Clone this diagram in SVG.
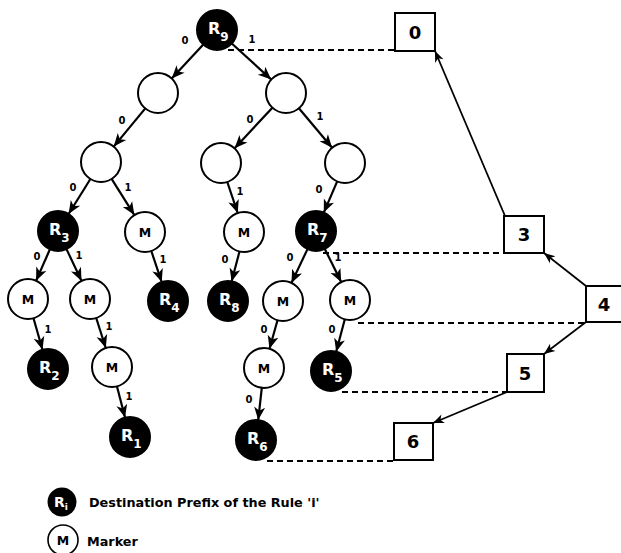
<svg xmlns="http://www.w3.org/2000/svg" width="621" height="553" viewBox="0 0 621 553">
  <style>
    text { font-family: "DejaVu Sans", "Liberation Sans", sans-serif; font-weight: bold; }
    .rule circle { fill: #000; stroke: #000; stroke-width: 2; }
    .rule text { fill: #fff; font-size: 16px; }
    .rule tspan { font-size: 12px; }
    .plain circle, .marker circle { fill: #fff; stroke: #000; stroke-width: 2; }
    .marker text { fill: #000; font-size: 12.5px; text-anchor: middle; }
    .box rect { fill: #fff; stroke: #000; stroke-width: 2; }
    .box text { fill: #000; font-size: 18px; text-anchor: middle; }
    .edge { stroke: #000; stroke-width: 2.2; fill: none; marker-end: url(#head); }
    .link { stroke: #000; stroke-width: 1.8; fill: none; marker-end: url(#headSmall); }
    .dash { stroke: #000; stroke-width: 2; stroke-dasharray: 6 4; fill: none; }
    .bit { font-size: 10px; text-anchor: middle; fill: #000; }
    .legend { font-size: 12.8px; fill: #000; }
  </style>
  <defs>
    <marker id="head" markerUnits="userSpaceOnUse" markerWidth="16" markerHeight="14" viewBox="-13 -7 14 14" refX="0" refY="0" orient="auto">
      <path d="M0,0 L-13,-5.5 L-9.5,0 L-13,5.5 Z" fill="#000"/>
    </marker>
    <marker id="headSmall" markerUnits="userSpaceOnUse" markerWidth="14" markerHeight="12" viewBox="-11 -6 12 12" refX="0" refY="0" orient="auto">
      <path d="M0,0 L-11,-4.5 L-8,0 L-11,4.5 Z" fill="#000"/>
    </marker>
  </defs>

  <!-- dashed level guides -->
  <g id="guides">
    <line class="dash" x1="228" y1="50" x2="395" y2="50"/>
    <line class="dash" x1="323" y1="253" x2="504" y2="253"/>
    <line class="dash" x1="358" y1="323" x2="586" y2="323"/>
    <line class="dash" x1="342" y1="392" x2="507" y2="392"/>
    <line class="dash" x1="267" y1="461" x2="394" y2="461"/>
  </g>

  <!-- trie edges -->
  <g id="connectors">
    <line class="edge" x1="203.3" y1="44.6" x2="171.7" y2="78.4"/>
    <line class="edge" x1="231.8" y1="43.5" x2="271.2" y2="79.5"/>
    <line class="edge" x1="145.3" y1="108.4" x2="113.7" y2="146.6"/>
    <line class="edge" x1="272.4" y1="107.7" x2="234.6" y2="148.3"/>
    <line class="edge" x1="298.9" y1="108.3" x2="332.1" y2="147.7"/>
    <line class="edge" x1="90.4" y1="179.0" x2="68.6" y2="214.0"/>
    <line class="edge" x1="111.6" y1="178.9" x2="134.4" y2="215.1"/>
    <line class="edge" x1="227.3" y1="182.0" x2="237.7" y2="213.0"/>
    <line class="edge" x1="337.2" y1="181.4" x2="323.8" y2="212.6"/>
    <line class="edge" x1="49.9" y1="249.3" x2="36.1" y2="280.7"/>
    <line class="edge" x1="66.5" y1="249.1" x2="81.5" y2="280.9"/>
    <line class="edge" x1="151.3" y1="251.0" x2="161.7" y2="282.0"/>
    <line class="edge" x1="239.5" y1="251.5" x2="231.6" y2="281.5"/>
    <line class="edge" x1="307.5" y1="249.1" x2="291.5" y2="282.9"/>
    <line class="edge" x1="324.8" y1="248.9" x2="341.2" y2="282.1"/>
    <line class="edge" x1="33.5" y1="318.2" x2="42.5" y2="349.8"/>
    <line class="edge" x1="96.2" y1="318.0" x2="105.8" y2="348.0"/>
    <line class="edge" x1="117.0" y1="386.4" x2="125.0" y2="417.6"/>
    <line class="edge" x1="277.5" y1="320.3" x2="269.5" y2="348.7"/>
    <line class="edge" x1="344.8" y1="319.3" x2="336.2" y2="351.7"/>
    <line class="edge" x1="261.8" y1="387.9" x2="258.2" y2="420.1"/>
    <!-- links between level boxes -->
    <line class="link" x1="505" y1="216" x2="435" y2="51"/>
    <line class="link" x1="586" y1="286" x2="544" y2="253"/>
    <line class="link" x1="586" y1="322" x2="544" y2="354"/>
    <line class="link" x1="507" y1="392" x2="433" y2="423"/>
  </g>

  <!-- edge bits -->
  <g id="bits">
    <text class="bit" x="185" y="44">0</text>
    <text class="bit" x="252" y="43">1</text>
    <text class="bit" x="122" y="124">0</text>
    <text class="bit" x="250" y="123">0</text>
    <text class="bit" x="320" y="120">1</text>
    <text class="bit" x="73" y="191">0</text>
    <text class="bit" x="128" y="191">1</text>
    <text class="bit" x="240" y="195">1</text>
    <text class="bit" x="319" y="193">0</text>
    <text class="bit" x="37" y="260">0</text>
    <text class="bit" x="79" y="259">1</text>
    <text class="bit" x="163" y="263">1</text>
    <text class="bit" x="225" y="263">0</text>
    <text class="bit" x="290" y="261">0</text>
    <text class="bit" x="338" y="261">1</text>
    <text class="bit" x="48" y="333">1</text>
    <text class="bit" x="109" y="330">1</text>
    <text class="bit" x="264" y="333">0</text>
    <text class="bit" x="332" y="333">0</text>
    <text class="bit" x="129" y="400">1</text>
    <text class="bit" x="249" y="403">0</text>
  </g>

  <!-- trie nodes -->
  <g id="R9" class="rule"><circle cx="217" cy="30" r="20"/><text x="208" y="34">R<tspan dy="7">9</tspan></text></g>
  <g id="n0" class="plain"><circle cx="158" cy="93" r="20"/></g>
  <g id="n1" class="plain"><circle cx="286" cy="93" r="20"/></g>
  <g id="n00" class="plain"><circle cx="101" cy="162" r="20"/></g>
  <g id="n10" class="plain"><circle cx="221" cy="163" r="20"/></g>
  <g id="n11" class="plain"><circle cx="345" cy="163" r="20"/></g>
  <g id="R3" class="rule"><circle cx="58" cy="231" r="20"/><text x="49" y="235">R<tspan dy="7">3</tspan></text></g>
  <g id="M001" class="marker"><circle cx="145" cy="232" r="20"/><text x="145" y="236.5">M</text></g>
  <g id="M101" class="marker"><circle cx="244" cy="232" r="20"/><text x="244" y="236.5">M</text></g>
  <g id="R7" class="rule"><circle cx="316" cy="231" r="20"/><text x="307" y="235">R<tspan dy="7">7</tspan></text></g>
  <g id="M0000" class="marker"><circle cx="28" cy="299" r="20"/><text x="28" y="303.5">M</text></g>
  <g id="M0001" class="marker"><circle cx="90" cy="299" r="20"/><text x="90" y="303.5">M</text></g>
  <g id="R4" class="rule"><circle cx="168" cy="301" r="20"/><text x="159" y="305">R<tspan dy="7">4</tspan></text></g>
  <g id="R8" class="rule"><circle cx="228" cy="301" r="20"/><text x="219" y="305">R<tspan dy="7">8</tspan></text></g>
  <g id="M1100" class="marker"><circle cx="283" cy="301" r="20"/><text x="283" y="305.5">M</text></g>
  <g id="M1101" class="marker"><circle cx="350" cy="300" r="20"/><text x="350" y="304.5">M</text></g>
  <g id="R2" class="rule"><circle cx="48" cy="369" r="20"/><text x="39" y="373">R<tspan dy="7">2</tspan></text></g>
  <g id="M00011" class="marker"><circle cx="112" cy="367" r="20"/><text x="112" y="371.5">M</text></g>
  <g id="M11000" class="marker"><circle cx="264" cy="368" r="20"/><text x="264" y="372.5">M</text></g>
  <g id="R5" class="rule"><circle cx="331" cy="371" r="20"/><text x="322" y="375">R<tspan dy="7">5</tspan></text></g>
  <g id="R1" class="rule"><circle cx="130" cy="437" r="20"/><text x="121" y="441">R<tspan dy="7">1</tspan></text></g>
  <g id="R6" class="rule"><circle cx="256" cy="440" r="20"/><text x="247" y="444">R<tspan dy="7">6</tspan></text></g>

  <!-- level boxes -->
  <g id="L0" class="box"><rect x="395" y="13" width="40" height="38"/><text x="415" y="39">0</text></g>
  <g id="L3" class="box"><rect x="504" y="216" width="40" height="37"/><text x="524" y="241">3</text></g>
  <g id="L4" class="box"><rect x="586" y="286" width="40" height="36"/><text x="604" y="311">4</text></g>
  <g id="L5" class="box"><rect x="507" y="354" width="37" height="38"/><text x="525" y="380">5</text></g>
  <g id="L6" class="box"><rect x="394" y="423" width="39" height="37"/><text x="413" y="448">6</text></g>

  <!-- legend -->
  <g id="legend-rule">
    <circle cx="62" cy="502" r="14.5" fill="#000"/>
    <text x="54" y="507" fill="#fff" font-size="14">R<tspan dy="3" font-size="9">i</tspan></text>
    <text class="legend" x="89" y="507">Destination Prefix of the Rule 'i'</text>
  </g>
  <g id="legend-marker">
    <circle cx="63" cy="540" r="15" fill="#fff" stroke="#000" stroke-width="1.6"/>
    <text x="63" y="545" font-size="12.5" text-anchor="middle">M</text>
    <text class="legend" x="87" y="546">Marker</text>
  </g>
</svg>
